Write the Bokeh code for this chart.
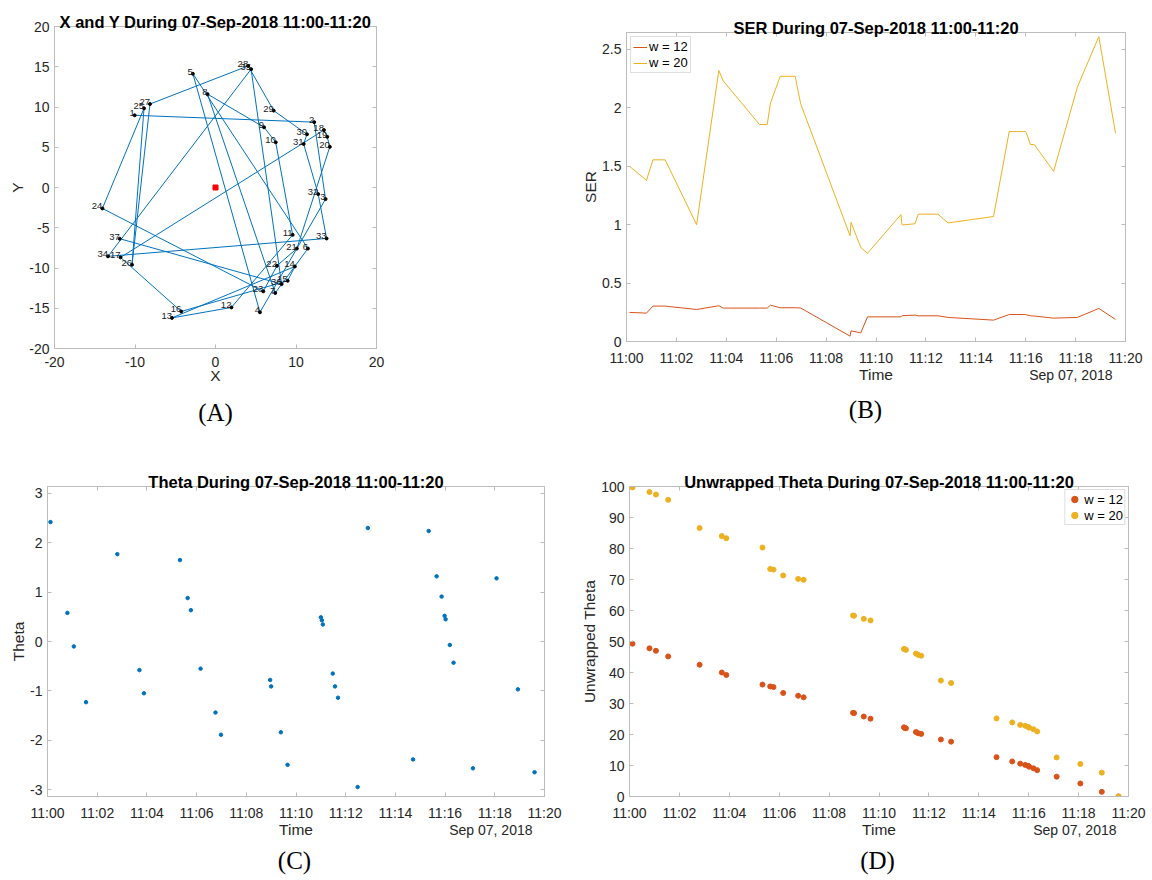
import math
from bokeh.plotting import figure
from bokeh.models import (Range1d, FixedTicker, LinearAxis, Label, Legend, LegendItem,
                          ColumnDataSource)
from bokeh.layouts import column, row
from bokeh.embed import file_html
from bokeh.resources import INLINE
from bokeh.core.properties import value

# ---------------- data ----------------
point_ids = list(range(1, 38))
pos_x = [-10.04, 12.26, 13.67, 5.52, -2.81, 11.48, 7.42, -0.99, 6.03, 7.48,
         9.58, 1.98, -5.41, 9.86, 8.96, -4.26, -11.8, 13.47, 13.88, 14.2,
         10.11, 7.63, 5.93, -14.05, -8.88, -10.37, -8.14, 4.06, 7.23, 11.36,
         10.95, 12.76, 13.8, -13.35, 4.42, 8.21, -11.9]
pos_y = [8.97, 8.12, -1.44, -15.5, 14.13, -7.58, -13.1, 11.6, 7.48, 5.62,
         -5.88, -14.9, -16.2, -9.81, -11.59, -15.4, -8.68, 7.13, 6.3, 5.05,
         -7.58, -9.73, -12.9, -2.6, 9.83, -9.59, 10.37, 15.1, 9.55, 6.61,
         5.41, -0.82, -6.33, -8.55, 14.7, -12.0, -6.36]
origin_x = [0.0]
origin_y = [0.0]

# minutes after 11:00 on 07-Sep-2018
minutes = [0.12, 0.80, 1.06, 1.55, 2.81, 3.70, 3.88, 5.33, 5.64, 5.77,
           6.16, 6.76, 6.98, 8.96, 9.00, 9.39, 9.66, 11.00, 11.04, 11.08,
           11.48, 11.57, 11.69, 12.48, 12.89, 14.71, 15.34, 15.66, 15.86, 15.98,
           16.02, 16.19, 16.34, 17.12, 18.07, 18.93, 19.60]
theta = [2.42, 0.58, -0.10, -1.23, 1.77, -0.58, -1.05, 1.65, 0.88, 0.635,
         -0.55, -1.44, -1.89, -0.78, -0.91, -1.84, -2.50, 0.49, 0.43, 0.345,
         -0.65, -0.91, -1.14, -2.95, 2.30, -2.39, 2.24, 1.32, 0.91, 0.52,
         0.45, -0.07, -0.43, -2.57, 1.28, -0.97, -2.65]
ser_w12 = [0.249, 0.243, 0.303, 0.303, 0.274, 0.306, 0.286, 0.286, 0.286, 0.311,
           0.289, 0.289, 0.287, 0.046, 0.091, 0.074, 0.211, 0.211, 0.220, 0.221,
           0.225, 0.226, 0.220, 0.220, 0.206, 0.183, 0.231, 0.231, 0.231, 0.231,
           0.229, 0.220, 0.218, 0.200, 0.206, 0.283, 0.189]
ser_w20 = [1.50, 1.38, 1.555, 1.555, 1.00, 2.32, 2.23, 1.857, 1.857, 2.04,
           2.27, 2.27, 2.035, 0.905, 1.02, 0.805, 0.755, 1.086, 1.00, 0.998,
           1.006, 1.009, 1.09, 1.09, 1.015, 1.07, 1.797, 1.797, 1.797, 1.797,
           1.79, 1.686, 1.686, 1.457, 2.177, 2.61, 1.783]
unwrap_w12 = [49.3, 47.8, 47.0, 45.2, 42.5, 40.0, 39.2, 36.1, 35.5, 35.3,
              33.4, 32.5, 32.0, 27.0, 26.9, 25.8, 25.1, 22.3, 22.1, 22.0,
              20.8, 20.4, 20.2, 18.4, 17.7, 12.7, 11.3, 10.6, 10.2, 9.9,
              9.6, 9.1, 8.5, 6.4, 4.2, 1.5, 0.0]
unwrap_w20 = [99.7, 98.2, 97.4, 95.7, 86.6, 84.0, 83.3, 80.3, 73.4, 73.2,
              71.3, 70.2, 69.9, 58.4, 58.3, 57.3, 56.8, 47.6, 47.5, 47.3,
              46.1, 45.7, 45.4, 37.4, 36.6, 25.2, 23.9, 23.1, 22.8, 22.4,
              22.2, 21.7, 21.0, 12.6, 10.5, 7.7, 0.0]

time_ticks = [0, 2, 4, 6, 8, 10, 12, 14, 16, 18, 20]
time_tick_labels = ["11:00", "11:02", "11:04", "11:06", "11:08", "11:10",
                    "11:12", "11:14", "11:16", "11:18", "11:20"]
xy_x_ticks = [-20, -10, 0, 10, 20]
xy_x_labels = ["-20", "-10", "0", "10", "20"]
xy_y_ticks = [-20, -15, -10, -5, 0, 5, 10, 15, 20]
xy_y_labels = ["-20", "-15", "-10", "-5", "0", "5", "10", "15", "20"]
ser_ticks = [0, 0.5, 1, 1.5, 2, 2.5]
ser_labels = ["0", "0.5", "1", "1.5", "2", "2.5"]
theta_ticks = [-3, -2, -1, 0, 1, 2, 3]
theta_labels = ["-3", "-2", "-1", "0", "1", "2", "3"]
unwrap_ticks = [0, 10, 20, 30, 40, 50, 60, 70, 80, 90, 100]
unwrap_labels = ["0", "10", "20", "30", "40", "50", "60", "70", "80", "90", "100"]

date_text = "Sep 07, 2018"
series_labels = ["w = 12", "w = 20"]

# ---------------- style ----------------
FONT = "Liberation Sans"
SERIF = "Liberation Serif"
FRAME = "#bdbdbd"
TXT = "#262626"
BLUE = "#0072BD"
ORANGE = "#D95319"
YELLOW = "#EDB120"


def style_axis(ax, ticks, labels, show):
    ax.ticker = FixedTicker(ticks=ticks)
    ax.major_label_overrides = {t: l for t, l in zip(ticks, labels)}
    ax.minor_tick_line_color = None
    ax.major_tick_in = 4
    ax.major_tick_out = 0
    ax.major_tick_line_color = FRAME
    ax.axis_line_color = FRAME
    ax.major_label_text_font = FONT
    ax.major_label_text_font_size = "14px"
    ax.major_label_text_color = TXT
    ax.axis_label_text_font = FONT
    ax.axis_label_text_font_size = "15.5px"
    ax.axis_label_text_font_style = "normal"
    ax.axis_label_text_color = TXT
    if not show:
        ax.major_label_text_font_size = "0px"
        ax.major_label_text_color = None
        ax.major_label_standoff = 0


class Panel:
    def __init__(self, ox, oy, W, H, left, top, fw, fh, xr, yr):
        self.ox, self.oy, self.left, self.top = ox, oy, left, top
        self.fw, self.fh, self.xr, self.yr = fw, fh, xr, yr
        self.fig = figure(width=W, height=H,
                          x_range=Range1d(*xr), y_range=Range1d(*yr),
                          output_backend="svg", toolbar_location=None,
                          min_border_left=left, min_border_top=top,
                          min_border_right=W - left - fw,
                          min_border_bottom=H - top - fh,
                          outline_line_color=FRAME, outline_line_width=1,
                          background_fill_color="white", border_fill_color="white")
        self.fig.xgrid.visible = False
        self.fig.ygrid.visible = False

    def dx(self, page_x):
        return self.xr[0] + (page_x - self.ox - self.left) / self.fw * (self.xr[1] - self.xr[0])

    def dy(self, page_y):
        return self.yr[1] - (page_y - self.oy - self.top) / self.fh * (self.yr[1] - self.yr[0])

    def label(self, page_x, page_y, text, place, size="14px", align="center",
              baseline="middle", font=FONT, color=TXT, style="normal"):
        self.fig.add_layout(Label(x=self.dx(page_x), y=self.dy(page_y), text=text,
                                  text_font=font, text_font_size=size,
                                  text_font_style=style,
                                  text_align=align, text_baseline=baseline,
                                  text_color=color), place)

    def title(self, text):
        cx = self.ox + self.left + self.fw / 2.0
        base = self.oy + self.top - 4.5
        self.label(cx, base, text, "above", size="16.5px", baseline="alphabetic",
                   color="black", style="bold")

    def axes(self, xt, xl, yt, yl, xlabel, ylabel):
        p = self.fig
        for ax, ticks, labels, is_x in ((p.xaxis[0], xt, xl, True), (p.yaxis[0], yt, yl, False)):
            style_axis(ax, ticks, labels, True)
            ax.axis_label = xlabel if is_x else ylabel
            ax.major_label_standoff = 8 if is_x else 5
            ax.axis_label_standoff = -3 if is_x else 0
        top_ax = LinearAxis()
        style_axis(top_ax, xt, xl, False)
        p.add_layout(top_ax, "above")
        right_ax = LinearAxis()
        style_axis(right_ax, yt, yl, False)
        p.add_layout(right_ax, "right")


# ---------------- (A) X and Y ----------------
A = Panel(0, 0, 576, 440, 54, 26, 322, 322, (-20, 20), (-20, 20))
pa = A.fig
A.axes(xy_x_ticks, xy_x_labels, xy_y_ticks, xy_y_labels, "X", "Y")
src_a = ColumnDataSource(dict(x=pos_x, y=pos_y, id=[str(i) for i in point_ids]))
pa.line("x", "y", source=src_a, line_color=BLUE, line_width=1)
pa.scatter("x", "y", source=src_a, size=3, color="black")
pa.text("x", "y", text="id", source=src_a, text_font=value(FONT), text_font_size="9.5px",
        text_align="right", text_baseline="alphabetic", y_offset=-2, text_color="#1a1a1a")
pa.scatter(origin_x, origin_y, marker="square", size=5, color="#FF0000")
A.title("X and Y During 07-Sep-2018 11:00-11:20")
A.label(215, 412, "(A)", "below", size="25px", font=SERIF, color="black")

# ---------------- (B) SER ----------------
B = Panel(576, 0, 576, 440, 50, 32, 499, 309, (0, 20), (0, 2.645))
pb = B.fig
B.axes(time_ticks, time_tick_labels, ser_ticks, ser_labels, "Time", "SER")
r12 = pb.line(minutes, ser_w12, line_color=ORANGE, line_width=1)
r20 = pb.line(minutes, ser_w20, line_color=YELLOW, line_width=1)
leg_b = Legend(items=[LegendItem(label=series_labels[0], renderers=[r12]),
                      LegendItem(label=series_labels[1], renderers=[r20])],
               location="top_left", margin=4, padding=2, spacing=1,
               glyph_width=14, glyph_height=14, label_height=14, label_standoff=2,
               label_text_font=FONT, label_text_font_size="13px", label_text_color="black",
               border_line_color=FRAME, background_fill_color="white",
               background_fill_alpha=1.0)
pb.add_layout(leg_b)
B.title("SER During 07-Sep-2018 11:00-11:20")
B.label(1112, 374, date_text, "below", align="right")
B.label(865, 409, "(B)", "below", size="25px", font=SERIF, color="black")

# ---------------- (C) Theta ----------------
C = Panel(0, 440, 576, 440, 47, 46, 497, 310, (0, 20), (-math.pi, math.pi))
pc = C.fig
C.axes(time_ticks, time_tick_labels, theta_ticks, theta_labels, "Time", "Theta")
pc.scatter(minutes, theta, size=3.5, color=BLUE)
C.title("Theta During 07-Sep-2018 11:00-11:20")
C.label(532, 829, date_text, "above", align="right")
C.label(294, 860, "(C)", "below", size="25px", font=SERIF, color="black")

# ---------------- (D) Unwrapped theta ----------------
D = Panel(576, 440, 576, 440, 53, 46, 499, 310, (0, 20), (0, 100))
pd_ = D.fig
D.axes(time_ticks, time_tick_labels, unwrap_ticks, unwrap_labels, "Time", "Unwrapped Theta")
s12 = pd_.scatter(minutes, unwrap_w12, size=5, color=ORANGE)
s20 = pd_.scatter(minutes, unwrap_w20, size=5, color=YELLOW)
leg_d = Legend(items=[LegendItem(label=series_labels[0], renderers=[s12]),
                      LegendItem(label=series_labels[1], renderers=[s20])],
               location="top_right", margin=3, padding=1, spacing=0,
               glyph_width=16, glyph_height=16, label_height=16, label_standoff=2,
               label_text_font=FONT, label_text_font_size="13px", label_text_color="black",
               border_line_color=FRAME, background_fill_color="white",
               background_fill_alpha=1.0)
pd_.add_layout(leg_d)
D.title("Unwrapped Theta During 07-Sep-2018 11:00-11:20")
D.label(1116, 829, date_text, "above", align="right")
D.label(877, 860, "(D)", "below", size="25px", font=SERIF, color="black")

layout = column(row(column(pa), column(pb)), row(column(pc), column(pd_)))
open("out.html", "w").write(file_html(layout, INLINE))
